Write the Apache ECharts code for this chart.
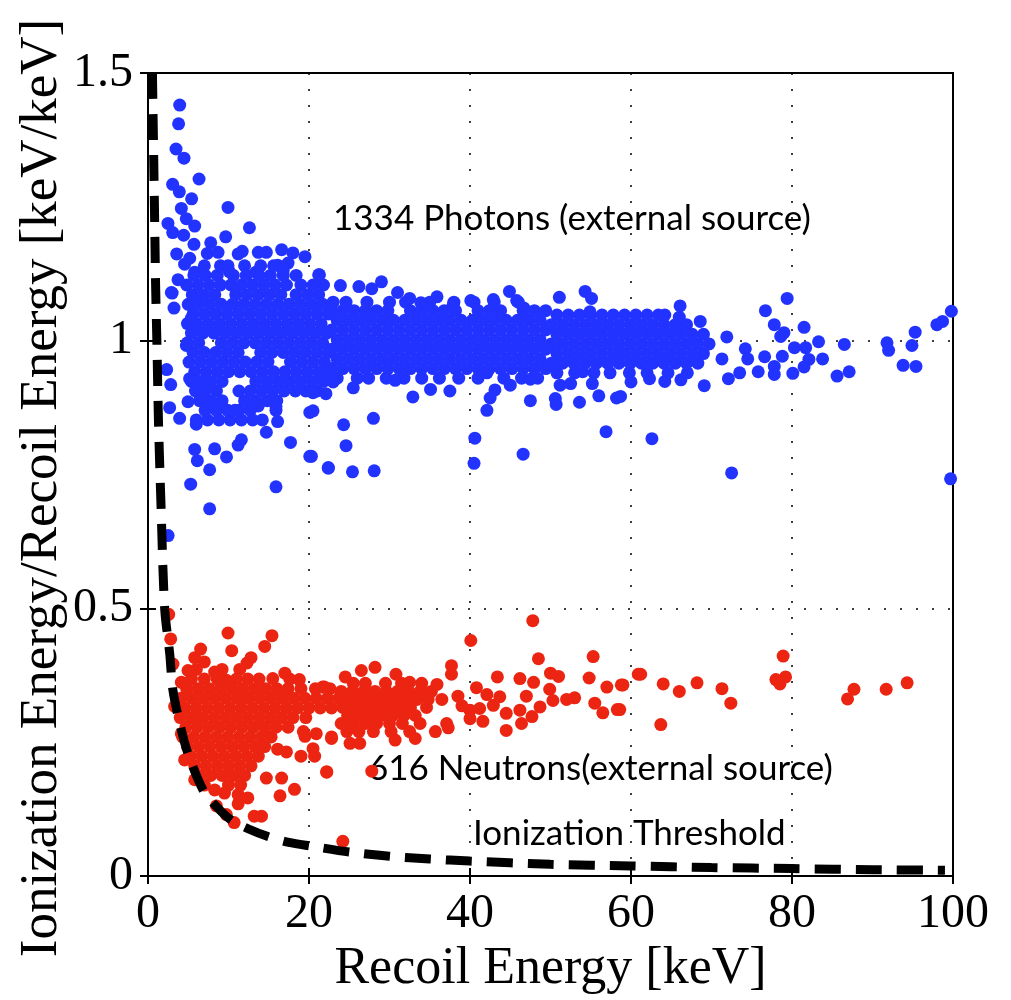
<!DOCTYPE html>
<html>
<head>
<meta charset="utf-8">
<title>Ionization yield vs recoil energy</title>
<script src="https://cdn.jsdelivr.net/npm/echarts@6/dist/echarts.min.js"></script>
<style>
  html, body { margin: 0; padding: 0; background: #fff; }
  #chart { width: 1011px; height: 1000px; }
</style>
</head>
<body>
<div id="chart"></div>
<script>
// Axis ticks
const xTicks = [0, 20, 40, 60, 80, 100];
const yTicks = [0, 0.5, 1, 1.5];

// Photon (electron-recoil) events: dense band at low energy
const photonBandLow = [
  [6.0,0.852],[7.4,0.852],[8.8,0.852],[10.2,0.852],[11.6,0.852],[13.0,0.852],[14.2,0.852],
  [7.1,0.870],[8.5,0.870],[9.9,0.870],[11.3,0.870],[12.7,0.870],[15.9,0.870],
  [6.4,0.888],[7.8,0.888],[9.2,0.888],[12.0,0.888],[13.4,0.888],[14.8,0.888],[16.0,0.888],
  [5.9,0.906],[7.1,0.906],[8.5,0.906],[11.3,0.906],[12.7,0.906],[14.1,0.906],[15.5,0.906],[16.9,0.906],[18.3,0.906],[19.6,0.906],[21.0,0.906],
  [5.4,0.924],[6.6,0.924],[7.8,0.924],[9.2,0.924],[13.4,0.924],[14.8,0.924],[16.2,0.924],[17.6,0.924],[19.0,0.924],[20.4,0.924],[21.8,0.924],
  [5.8,0.942],[7.2,0.942],[8.6,0.942],[10.0,0.942],[11.4,0.942],[12.8,0.942],[14.2,0.942],[15.6,0.942],[17.0,0.942],[18.4,0.942],[19.8,0.942],[21.2,0.942],[22.5,0.942],
  [5.1,0.960],[6.5,0.960],[7.9,0.960],[9.3,0.960],[10.7,0.960],[12.1,0.960],[13.5,0.960],[14.9,0.960],[17.7,0.960],[19.1,0.960],[20.5,0.960],[21.9,0.960],
  [5.6,0.978],[7.0,0.978],[8.4,0.978],[9.8,0.978],[11.2,0.978],[14.0,0.978],[15.4,0.978],[16.8,0.978],[18.2,0.978],[19.6,0.978],[21.0,0.978],[22.4,0.978],
  [4.9,0.996],[6.3,0.996],[9.1,0.996],[10.5,0.996],[11.9,0.996],[13.3,0.996],[14.7,0.996],[16.1,0.996],[17.5,0.996],[18.9,0.996],[20.3,0.996],[21.7,0.996],
  [5.4,1.014],[6.8,1.014],[8.2,1.014],[9.6,1.014],[11.0,1.014],[12.4,1.014],[13.8,1.014],[15.2,1.014],[16.6,1.014],[18.0,1.014],[19.4,1.014],[20.8,1.014],[22.2,1.014],
  [4.9,1.032],[6.1,1.032],[7.5,1.032],[8.9,1.032],[10.3,1.032],[11.7,1.032],[13.1,1.032],[14.5,1.032],[15.9,1.032],[17.3,1.032],[18.7,1.032],[20.1,1.032],[21.5,1.032],
  [5.6,1.050],[7.0,1.050],[8.4,1.050],[9.8,1.050],[11.2,1.050],[12.6,1.050],[14.0,1.050],[15.4,1.050],[16.8,1.050],[18.2,1.050],[19.6,1.050],[21.0,1.050],[22.4,1.050],
  [5.0,1.068],[6.3,1.068],[7.7,1.068],[9.1,1.068],[10.5,1.068],[11.9,1.068],[13.3,1.068],[14.7,1.068],[16.1,1.068],[17.5,1.068],[18.9,1.068],[20.3,1.068],[21.7,1.068],
  [5.5,1.086],[6.9,1.086],[8.3,1.086],[10.9,1.086],[12.3,1.086],[13.7,1.086],[15.1,1.086],[16.5,1.086],[18.4,1.086],[19.8,1.086],[21.2,1.086],
  [4.8,1.104],[6.2,1.104],[7.6,1.104],[9.0,1.104],[10.3,1.104],[11.6,1.104],[13.0,1.104],[14.4,1.104],[15.8,1.104],[17.2,1.104],[19.0,1.104],[20.5,1.104],[21.8,1.104],
  [5.7,1.122],[7.1,1.122],[8.6,1.122],[10.6,1.122],[12.2,1.122],[13.8,1.122],[15.2,1.122],[16.8,1.122],[18.4,1.122],
  [7.0,1.140],[9.0,1.140],[12.0,1.140],[14.0,1.140],[15.6,1.140],[17.4,1.145]
];

// Photon events: band between 22 and 50 keV
const photonBandMid = [
  [23.5,0.930],[26.0,0.930],[27.4,0.930],[29.6,0.930],[31.8,0.930],[34.0,0.930],[36.2,0.930],[38.6,0.930],[41.0,0.930],[44.2,0.930],[46.4,0.930],[48.4,0.930],
  [22.8,0.948],[24.2,0.948],[25.6,0.948],[27.0,0.948],[28.4,0.948],[29.8,0.948],[31.2,0.948],[32.6,0.948],[34.0,0.948],[35.4,0.948],[36.8,0.948],[38.2,0.948],[39.6,0.948],[41.0,0.948],[42.4,0.948],[43.8,0.948],[45.2,0.948],[46.6,0.948],[48.0,0.948],[49.4,0.948],
  [23.5,0.966],[24.9,0.966],[26.3,0.966],[27.7,0.966],[29.1,0.966],[30.5,0.966],[31.9,0.966],[33.3,0.966],[34.7,0.966],[36.1,0.966],[37.5,0.966],[38.9,0.966],[40.3,0.966],[41.7,0.966],[43.1,0.966],[44.5,0.966],[45.9,0.966],[47.3,0.966],[48.7,0.966],
  [22.8,0.984],[24.2,0.984],[25.6,0.984],[27.0,0.984],[28.4,0.984],[29.8,0.984],[31.2,0.984],[32.6,0.984],[34.0,0.984],[35.4,0.984],[36.8,0.984],[38.2,0.984],[39.6,0.984],[41.0,0.984],[42.4,0.984],[43.8,0.984],[45.2,0.984],[46.6,0.984],[48.0,0.984],[49.4,0.984],
  [23.5,1.002],[24.9,1.002],[26.3,1.002],[27.7,1.002],[29.1,1.002],[30.5,1.002],[31.9,1.002],[33.3,1.002],[34.7,1.002],[36.1,1.002],[37.5,1.002],[38.9,1.002],[40.3,1.002],[41.7,1.002],[43.1,1.002],[44.5,1.002],[45.9,1.002],[47.3,1.002],[48.7,1.002],
  [22.8,1.020],[24.2,1.020],[25.6,1.020],[27.0,1.020],[28.4,1.020],[29.8,1.020],[31.2,1.020],[32.6,1.020],[34.0,1.020],[35.4,1.020],[36.8,1.020],[38.2,1.020],[39.6,1.020],[41.0,1.020],[42.4,1.020],[43.8,1.020],[45.2,1.020],[46.6,1.020],[48.0,1.020],[49.4,1.020],
  [23.5,1.038],[24.9,1.038],[26.3,1.038],[27.7,1.038],[29.1,1.038],[30.5,1.038],[31.9,1.038],[33.3,1.038],[34.7,1.038],[36.1,1.038],[37.5,1.038],[38.9,1.038],[40.3,1.038],[41.7,1.038],[43.1,1.038],[44.5,1.038],[45.9,1.038],[47.3,1.038],[48.7,1.038],
  [22.8,1.056],[24.2,1.056],[25.6,1.056],[27.0,1.056],[28.4,1.056],[29.8,1.056],[32.6,1.056],[34.0,1.056],[35.4,1.056],[36.8,1.056],[38.2,1.056],[41.0,1.056],[42.4,1.056],[43.8,1.056],[46.6,1.056],[48.0,1.056],[49.4,1.056],
  [23.0,1.072],[24.6,1.072],[27.2,1.072],[30.0,1.072],[32.0,1.072],[35.0,1.072],[38.0,1.072],[40.5,1.072],[43.0,1.072],[46.0,1.072]
];

// Photon events: band between 50 and 70 keV
const photonBandHigh = [
  [50.8,0.940],[53.0,0.940],[55.4,0.940],[57.4,0.940],[59.8,0.940],[62.0,0.940],[64.6,0.940],[67.0,0.940],
  [50.1,0.958],[51.5,0.958],[52.9,0.958],[54.3,0.958],[55.7,0.958],[57.1,0.958],[58.5,0.958],[59.9,0.958],[61.3,0.958],[62.7,0.958],[64.1,0.958],[65.5,0.958],[66.9,0.958],[68.3,0.958],
  [50.8,0.976],[52.2,0.976],[53.6,0.976],[55.0,0.976],[56.4,0.976],[57.8,0.976],[59.2,0.976],[60.6,0.976],[62.0,0.976],[63.4,0.976],[64.8,0.976],[66.2,0.976],[67.6,0.976],[69.0,0.976],
  [50.1,0.994],[51.5,0.994],[52.9,0.994],[54.3,0.994],[55.7,0.994],[57.1,0.994],[58.5,0.994],[59.9,0.994],[61.3,0.994],[62.7,0.994],[64.1,0.994],[65.5,0.994],[66.9,0.994],[68.3,0.994],[69.7,0.994],
  [50.8,1.012],[52.2,1.012],[53.6,1.012],[55.0,1.012],[56.4,1.012],[57.8,1.012],[59.2,1.012],[60.6,1.012],[62.0,1.012],[63.4,1.012],[64.8,1.012],[66.2,1.012],[67.6,1.012],[69.0,1.012],
  [50.1,1.030],[51.5,1.030],[52.9,1.030],[54.3,1.030],[55.7,1.030],[57.1,1.030],[58.5,1.030],[59.9,1.030],[61.3,1.030],[62.7,1.030],[64.1,1.030],[65.5,1.030],[66.9,1.030],
  [50.8,1.048],[52.2,1.048],[53.6,1.048],[55.0,1.048],[56.4,1.048],[57.8,1.048],[59.2,1.048],[60.6,1.048],[62.0,1.048],[63.4,1.048]
];

// Photon events away from the band
const photonOutliers = [
  [3.94,1.440],[3.80,1.405],[3.48,1.358],[4.47,1.341],[6.34,1.302],[3.06,1.292],[3.89,1.278],[5.42,1.265],
  [9.94,1.249],[4.14,1.247],[4.76,1.228],[2.48,1.219],[5.80,1.214],[3.07,1.202],[12.6,1.211],[4.43,1.197],
  [9.65,1.194],[5.71,1.180],[7.79,1.183],[3.56,1.162],[7.37,1.163],[8.70,1.165],[5.18,1.154],[4.55,1.143],
  [11.2,1.162],[11.7,1.167],[13.7,1.165],[14.7,1.165],[16.6,1.170],[18.0,1.164],[19.5,1.157],[9.94,1.140],
  [10.1,1.129],[16.1,1.141],[16.8,1.131],[13.4,1.128],[21.2,1.123],[3.73,1.114],[5.80,1.128],[2.90,1.090],
  [3.00,1.089],[3.23,1.061],[5.40,1.042],[4.76,0.991],[2.32,0.946],[2.82,0.918],[5.17,0.929],[4.97,0.886],
  [2.69,0.875],[3.93,0.855],[6.00,0.844],[8.28,0.880],[10.8,0.870],[13.7,0.878],[15.9,0.877],[16.1,0.849],
  [14.7,0.829],[20.1,0.866],[17.7,0.810],[11.6,0.815],[11.2,0.805],[5.80,0.797],[8.28,0.798],[9.75,0.783],
  [6.13,0.776],[7.66,0.759],[20.1,0.784],[5.30,0.732],[15.9,0.727],[7.66,0.686],[22.4,0.762],[2.50,0.636],
  [21.3,1.123],[23.9,1.103],[26.2,1.101],[29.0,1.110],[27.8,1.097],[31.0,1.090],[32.5,1.079],[35.9,1.082],
  [33.9,1.071],[37.9,1.067],[40.1,1.075],[42.9,1.077],[44.9,1.092],[45.8,1.075],[46.7,1.061],[23.0,0.923],
  [25.5,0.912],[20.5,0.903],[22.1,0.901],[32.9,0.895],[35.1,0.909],[37.5,0.906],[30.7,0.926],[42.1,0.940],
  [43.1,0.908],[42.5,0.893],[42.1,0.870],[45.0,0.917],[47.5,0.928],[47.5,0.888],[20.5,0.869],[28.0,0.855],
  [24.3,0.843],[24.6,0.804],[20.3,0.784],[40.6,0.818],[46.6,0.788],[40.5,0.771],[22.4,0.763],[25.4,0.755],
  [28.1,0.757],
  [51.1,1.081],[54.3,1.092],[55.1,1.079],[54.9,1.054],[64.2,1.048],[66.1,1.065],[66.0,1.044],[68.6,1.036],
  [79.4,1.079],[76.7,1.056],[77.8,1.030],[79.0,1.015],[78.6,1.008],[81.5,1.025],[83.3,0.998],[86.5,0.993],
  [80.3,0.987],[81.7,0.987],[78.8,0.971],[76.6,0.970],[82.1,0.965],[83.8,0.966],[81.5,0.951],[80.1,0.939],
  [77.8,0.952],[77.8,0.937],[75.8,0.942],[73.5,0.940],[85.6,0.934],[87.1,0.942],[91.8,0.996],[92.0,0.982],
  [94.9,0.991],[95.3,1.016],[98.0,1.030],[98.7,1.036],[99.8,1.055],[93.8,0.954],[95.4,0.952],[99.7,0.742],
  [56.9,0.830],[62.6,0.817],[72.5,0.753],[50.6,0.892],[50.7,0.881],[53.6,0.885],[56.0,0.897],[58.7,0.896],
  [58.2,0.893],[60.0,0.923],[51.2,0.917],[52.5,0.920],[55.2,0.920],[54.0,0.942],[62.3,0.929],[64.2,0.924],
  [66.2,0.927],[69.1,0.916],[72.1,0.929],[71.3,0.966],[71.9,1.007],[74.2,0.985],[74.5,0.966]
];

// Neutron (nuclear-recoil) events: dense core
const neutronCore = [
  [6.0,0.386],[9.2,0.386],[11.4,0.386],
  [5.4,0.368],[7.0,0.368],[8.6,0.368],[11.0,0.368],[12.4,0.368],[13.8,0.368],[17.6,0.368],
  [4.8,0.350],[6.2,0.350],[7.6,0.350],[9.0,0.350],[10.4,0.350],[11.8,0.350],[13.2,0.350],[14.6,0.350],[16.0,0.350],[17.4,0.350],[19.0,0.350],[20.8,0.350],[22.6,0.350],
  [4.1,0.332],[5.5,0.332],[6.9,0.332],[8.3,0.332],[9.7,0.332],[11.1,0.332],[12.5,0.332],[13.9,0.332],[15.3,0.332],[16.7,0.332],[18.1,0.332],[19.5,0.332],[20.9,0.332],[22.3,0.332],[23.7,0.332],
  [4.6,0.314],[6.0,0.314],[7.4,0.314],[8.8,0.314],[10.2,0.314],[11.6,0.314],[13.0,0.314],[14.4,0.314],[15.8,0.314],[17.2,0.314],[18.6,0.314],[20.0,0.314],[21.4,0.314],[22.8,0.314],
  [4.0,0.296],[5.4,0.296],[6.8,0.296],[8.2,0.296],[9.6,0.296],[11.0,0.296],[12.4,0.296],[13.8,0.296],[15.2,0.296],[16.6,0.296],[18.0,0.296],[19.6,0.296],
  [4.7,0.278],[6.1,0.278],[7.5,0.278],[8.9,0.278],[10.3,0.278],[11.7,0.278],[13.1,0.278],[14.5,0.278],[15.9,0.278],[17.4,0.278],
  [4.3,0.260],[5.7,0.260],[7.1,0.260],[8.5,0.260],[9.9,0.260],[11.3,0.260],[12.7,0.260],[14.1,0.260],[15.3,0.260],
  [4.9,0.242],[6.3,0.242],[7.7,0.242],[9.1,0.242],[10.5,0.242],[11.9,0.242],[13.3,0.242],[14.5,0.242],
  [5.3,0.224],[6.7,0.224],[8.1,0.224],[9.5,0.224],[10.9,0.224],[12.3,0.224],[13.7,0.224],
  [5.8,0.206],[7.2,0.206],[8.6,0.206],[10.0,0.206],[11.4,0.206],[12.8,0.206],
  [6.4,0.188],[7.8,0.188],[9.2,0.188],[10.6,0.188],[12.0,0.188],
  [7.0,0.170],[10.0,0.170],[11.5,0.170]
];

// Neutron events: sparser cloud between 24 and 36 keV
const neutronSpread = [
  [25.5,0.360],[27.0,0.360],[29.5,0.360],[31.5,0.360],[34.0,0.360],
  [24.0,0.345],[25.4,0.345],[26.8,0.345],[28.2,0.345],[29.6,0.345],[31.0,0.345],[32.4,0.345],[33.8,0.345],[35.2,0.345],
  [25.0,0.330],[26.4,0.330],[27.8,0.330],[29.2,0.330],[30.6,0.330],[32.0,0.330],[33.4,0.330],[34.8,0.330],
  [24.2,0.315],[25.6,0.315],[27.0,0.315],[28.4,0.315],[29.8,0.315],[31.2,0.315],[32.6,0.315],[34.6,0.315],
  [24.8,0.300],[26.2,0.300],[27.6,0.300],[29.0,0.300],[30.4,0.300],[31.8,0.300],[33.2,0.300],
  [24.0,0.285],[25.5,0.285],[27.0,0.285],[28.4,0.285],[30.0,0.285],[31.6,0.285],[33.8,0.285],
  [24.7,0.270],[26.2,0.270],[28.0,0.270],[30.2,0.270],[32.5,0.270]
];

// Neutron events away from the core
const neutronOutliers = [
  [2.57,0.489],[2.82,0.443],[9.94,0.454],[15.4,0.449],[14.5,0.429],[10.4,0.421],[6.54,0.424],[3.10,0.396],
  [5.80,0.408],[12.8,0.408],[7.00,0.400],[4.97,0.384],[12.3,0.398],[9.73,0.366],[17.0,0.379],[15.5,0.369],
  [18.8,0.367],[21.7,0.353],[8.28,0.381],[4.14,0.362],[3.31,0.317],[4.14,0.266],[4.55,0.217],[5.80,0.180],
  [8.28,0.161],[9.50,0.155],[8.50,0.131],[9.73,0.115],[10.7,0.100],[11.2,0.152],[12.4,0.146],[11.2,0.135],
  [13.2,0.112],[14.1,0.112],[16.4,0.150],[18.2,0.162],[14.7,0.183],[16.6,0.183],[16.1,0.237],[17.2,0.232],
  [19.0,0.224],[20.5,0.238],[20.7,0.224],[22.2,0.194],[19.3,0.270],[19.5,0.261],[20.9,0.266],[22.8,0.260],
  [24.2,0.065],
  [47.8,0.477],[40.1,0.440],[48.5,0.406],[55.3,0.410],[37.7,0.393],[37.7,0.377],[43.4,0.372],[46.2,0.369],
  [47.9,0.362],[50.0,0.379],[51.0,0.373],[54.8,0.370],[40.8,0.352],[49.9,0.349],[57.0,0.353],[58.8,0.357],
  [60.9,0.377],[38.5,0.336],[42.1,0.339],[43.7,0.335],[47.0,0.336],[48.7,0.316],[50.3,0.328],[52.0,0.330],
  [53.0,0.333],[55.5,0.323],[56.5,0.305],[58.3,0.311],[40.0,0.310],[41.2,0.313],[42.9,0.319],[44.5,0.304],
  [40.0,0.294],[41.6,0.289],[46.2,0.310],[46.4,0.285],[47.7,0.298],[44.5,0.272],[37.1,0.285],[37.3,0.277],
  [35.7,0.270],[28.2,0.390],[26.5,0.384],[24.5,0.372],[30.8,0.377],[21.9,0.353],[32.5,0.362],[35.9,0.358],
  [25.1,0.248],[26.3,0.248],[30.7,0.254],[33.2,0.257],[22.8,0.257],[22.2,0.195],[27.8,0.196],[36.5,0.330],
  [39.0,0.318],
  [61.2,0.377],[59.0,0.357],[58.6,0.311],[64.0,0.359],[66.0,0.345],[68.2,0.361],[71.3,0.350],[72.4,0.323],
  [63.7,0.283],[78.9,0.411],[78.0,0.367],[79.2,0.372],[78.5,0.359],[87.7,0.349],[86.9,0.331],[91.7,0.349],
  [94.3,0.361]
];

// Ionization threshold curve
const thresholdCurve = [
  [0.55,1.50],[0.65,1.40],[0.75,1.30],[0.85,1.20],[0.95,1.10],[1.10,1.00],[1.30,0.85],[1.60,0.70],
  [2.07,0.50],[2.70,0.415],[3.10,0.347],[4.14,0.273],[4.97,0.229],[6.83,0.161],[8.50,0.130],[10.3,0.105],
  [12.5,0.088],[14.9,0.074],[17.5,0.063],[20.3,0.056],[25.0,0.045],[30.0,0.037],[35.0,0.032],[40.0,0.028],
  [50.0,0.022],[60.0,0.019],[70.0,0.016],[80.0,0.014],[90.0,0.012],[99.0,0.011]
];

const photonLabel = '1334 Photons (external source)';
const neutronLabel = '616 Neutrons(external source)';
const thresholdLabel = 'Ionization Threshold';
const xTitle = 'Recoil Energy [keV]';
const yTitle = 'Ionization Energy/Recoil Energy [keV/keV]';

const serif = '"Liberation Serif", "Times New Roman", serif';
const sans = 'Lato, "Open Sans", sans-serif';

const chart = echarts.init(document.getElementById('chart'), null, { renderer: 'canvas' });

const frameLine = { lineStyle: { color: '#000', width: 2 } };
const innerTick = { inside: true, length: 8, lineStyle: { color: '#000', width: 2 } };
const dotted = { show: true, lineStyle: { color: '#000', width: 1.5, type: [2, 14] } };

chart.setOption({
  animation: false,
  backgroundColor: '#fff',
  grid: { left: 148, right: 58, top: 73, bottom: 120, show: true, borderColor: '#000', borderWidth: 2, backgroundColor: 'transparent' },
  xAxis: [
    {
      type: 'value', min: xTicks[0], max: xTicks[xTicks.length - 1], interval: xTicks[1] - xTicks[0],
      axisLine: frameLine, axisTick: innerTick, splitLine: dotted,
      axisLabel: { fontFamily: serif, fontSize: 48, color: '#000', margin: 14 },
      name: xTitle, nameLocation: 'middle', nameGap: 60,
      nameTextStyle: { fontFamily: serif, fontSize: 52, color: '#000' }
    },
    {
      type: 'value', position: 'top', min: xTicks[0], max: xTicks[xTicks.length - 1], interval: xTicks[1] - xTicks[0],
      axisLine: frameLine, axisTick: innerTick, axisLabel: { show: false }, splitLine: { show: false }
    }
  ],
  yAxis: [
    {
      type: 'value', min: yTicks[0], max: yTicks[yTicks.length - 1], interval: yTicks[1] - yTicks[0],
      axisLine: frameLine, axisTick: innerTick, splitLine: dotted,
      axisLabel: { fontFamily: serif, fontSize: 48, color: '#000', margin: 15 }
    },
    {
      type: 'value', position: 'right', min: yTicks[0], max: yTicks[yTicks.length - 1], interval: yTicks[1] - yTicks[0],
      axisLine: frameLine, axisTick: innerTick, axisLabel: { show: false }, splitLine: { show: false }
    }
  ],
  series: [
    {
      name: 'Photons', type: 'scatter', symbol: 'circle', symbolSize: 13,
      itemStyle: { color: '#2233ff', opacity: 1 },
      data: photonBandLow.concat(photonBandMid, photonBandHigh, photonOutliers),
      clip: true
    },
    {
      name: 'Neutrons', type: 'scatter', symbol: 'circle', symbolSize: 13,
      itemStyle: { color: '#ec2512', opacity: 1 },
      data: neutronCore.concat(neutronSpread, neutronOutliers),
      clip: true
    },
    {
      name: 'Threshold', type: 'line', data: thresholdCurve, symbol: 'none', smooth: 0.3,
      lineStyle: { color: '#000', width: 9, type: [26, 15] },
      clip: true, z: 5
    }
  ],
  graphic: [
    {
      type: 'text', x: 42, y: 488, rotation: Math.PI / 2,
      style: { text: yTitle, font: '53px ' + serif, fill: '#000', align: 'center', verticalAlign: 'middle', textAlign: 'center', textVerticalAlign: 'middle' }
    },
    { type: 'text', left: 333, top: 201, style: { text: photonLabel, font: '35px ' + sans, fill: '#000' } },
    { type: 'text', left: 368, top: 751, style: { text: neutronLabel, font: '35px ' + sans, fill: '#000' } },
    { type: 'text', left: 473, top: 816, style: { text: thresholdLabel, font: '35px ' + sans, fill: '#000' } }
  ]
});
</script>
</body>
</html>
